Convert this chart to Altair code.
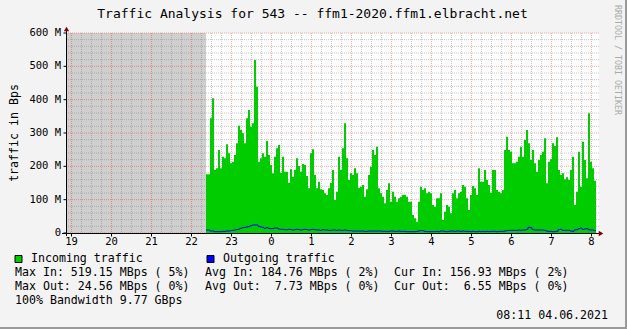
import altair as alt
import pandas as pd

FONT = "DejaVu Sans Mono"

TITLE = "Traffic Analysis for 543 -- ffm1-2020.ffm1.elbracht.net"
Y_TITLE = "traffic in Bps"
SIDE_TEXT = "RRDTOOL / TOBI OETIKER"
TIMESTAMP = "08:11 04.06.2021"

# x axis: hours of day (continuing past midnight as 24, 25, ...)
hour_ticks = list(range(19, 33))
hour_labels = [str(h % 24) for h in hour_ticks]
# y axis (MBps)
y_ticks = [0, 100, 200, 300, 400, 500, 600]
y_labels = ["0  ", "100 M", "200 M", "300 M", "400 M", "500 M", "600 M"]

view_start = 18 + 51.75 / 60     # left edge of the plot (hours)
view_end = 32 + 11.25 / 60       # 08:11 next day
series_start = 22 + 21.75 / 60   # first sample (before: unknown data)
step_h = 3 / 60                  # 3-minute samples

# Incoming traffic, MBps
incoming = [
    176, 176, 344, 404, 189, 194, 249, 194, 229, 224, 266, 239, 209, 214, 234, 269, 322,
    309, 299, 269, 344, 369, 319, 329, 519, 439, 214, 224, 239, 229, 276, 234, 204,
    179, 229, 254, 264, 181, 229, 184, 184, 151, 191, 169, 189, 224, 201, 184, 207, 204,
    171, 134, 239, 251, 174, 134, 154, 131, 129, 119, 114, 134, 151, 189, 99, 124,
    229, 189, 254, 329, 224, 159, 179, 174, 194, 179, 136, 139, 144, 109, 131, 174, 199,
    249, 234, 259, 134, 119, 109, 89, 129, 149, 94, 124, 109, 94, 104, 109, 114,
    114, 109, 94, 94, 54, 44, 34, 94, 139, 129, 134, 119, 124, 119, 84, 79, 104,
    104, 119, 39, 64, 84, 79, 59, 119, 129, 104, 119, 124, 144, 139, 104, 69,
    114, 141, 134, 114, 194, 154, 154, 189, 159, 144, 121, 189, 189, 129, 124, 119, 129,
    249, 289, 249, 244, 209, 209, 214, 229, 259, 229, 279, 309, 269, 219, 249, 209,
    184, 219, 234, 244, 284, 149, 214, 221, 269, 261, 287, 189, 174, 179, 161, 167, 159,
    189, 229, 84, 124, 244, 139, 274, 219, 164, 359, 214, 194, 157,
]
# Outgoing traffic, MBps
outgoing = [
    9, 9, 6, 6, 4, 4, 4, 4, 5, 5, 6, 6, 7, 8, 9, 10, 12, 14, 16, 17, 18, 19, 22, 24, 24, 24,
    20, 18, 17, 14, 16, 14, 13,
    13, 15, 15, 12, 11, 11, 10, 10, 11, 10, 9, 10, 11, 10, 9, 10, 11, 10, 9, 10, 11, 10, 9,
    9, 8, 10, 9, 9, 8, 8, 9, 9, 8,
    9, 8, 8, 9, 8, 7, 7, 6, 6, 6, 6, 6, 6, 5, 5, 6, 6, 6, 6, 6, 6, 6, 5, 5, 5, 5, 6, 6, 5,
    5, 6, 5, 5,
    5, 4, 4, 4, 4, 4, 5, 6, 7, 7, 5, 4, 4, 4, 4, 4, 5, 4, 6, 6, 5, 4, 5, 6, 6, 5, 6, 6, 5,
    6, 5, 5, 5,
    4, 5, 4, 4, 5, 4, 5, 4, 5, 4, 5, 5, 5, 4, 5, 5, 5, 6, 7, 8, 8, 8, 8, 8, 9, 8, 9, 9, 11,
    17, 16, 10, 9,
    9, 9, 9, 9, 8, 6, 5, 5, 4, 4, 5, 10, 11, 8, 8, 8, 8, 6, 5, 9, 10, 13, 15, 11, 12, 13,
    10, 9, 9, 7,
]

legend_items = ["Incoming traffic", "Outgoing traffic"]
legend_colors = ["#00cc00", "#0000ff"]
stats_rows = [
    ["Max In: 519.15 MBps ( 5%)", "Avg In: 184.76 MBps ( 2%)", "Cur In: 156.93 MBps ( 2%)"],
    ["Max Out: 24.56 MBps ( 0%)", "Avg Out:  7.73 MBps ( 0%)", "Cur Out:  6.55 MBps ( 0%)"],
    ["100% Bandwidth 9.77 GBps"],
]

NB = "\u00a0"
W, H = 533, 200
n = len(incoming)
times = [series_start + i * step_h for i in range(n + 1)]
df = pd.DataFrame({
    "t": times,
    "inc": incoming + [incoming[-1]],
    "out": outgoing + [outgoing[-1]],
})

xscale = alt.Scale(domain=[view_start, view_end], nice=False, zero=False)
yscale = alt.Scale(domain=[0, 600], nice=False, zero=True)

# unknown-data region
unknown = alt.Chart(pd.DataFrame({"a": [view_start], "b": [series_start], "lo": [0], "hi": [600]})).mark_rect(
    color="#cfcfcf").encode(
    x=alt.X("a:Q", scale=xscale, axis=None), x2="b:Q",
    y=alt.Y("lo:Q", scale=yscale, axis=None), y2="hi:Q")

minor_x = [h + q for h in range(18, 33) for q in (0.25, 0.5, 0.75) if view_start < h + q < view_end]
minor_y = [v for v in range(20, 600, 20) if v % 100 != 0]

grid_minor_x = alt.Chart(pd.DataFrame({"h": minor_x})).mark_rule(
    color="#808080", opacity=0.45, strokeDash=[1, 1], strokeWidth=1).encode(
    x=alt.X("h:Q", scale=xscale, axis=None))
grid_minor_y = alt.Chart(pd.DataFrame({"v": minor_y})).mark_rule(
    color="#808080", opacity=0.45, strokeDash=[1, 1], strokeWidth=1).encode(
    y=alt.Y("v:Q", scale=yscale, axis=None))
grid_major_x = alt.Chart(pd.DataFrame({"h": hour_ticks})).mark_rule(
    color="#ff0000", opacity=0.35, strokeDash=[1, 1], strokeWidth=1).encode(
    x=alt.X("h:Q", scale=xscale, axis=None))
grid_major_y = alt.Chart(pd.DataFrame({"v": y_ticks})).mark_rule(
    color="#ff0000", opacity=0.35, strokeDash=[1, 1], strokeWidth=1).encode(
    y=alt.Y("v:Q", scale=yscale, axis=None))

area_in = alt.Chart(df).mark_area(color="#00cc00", interpolate="step-after", opacity=1).encode(
    x=alt.X("t:Q", scale=xscale, axis=None),
    y=alt.Y("inc:Q", scale=yscale, axis=None))
line_out = alt.Chart(df).mark_line(color="#0000ff", interpolate="step-after", strokeWidth=1).encode(
    x=alt.X("t:Q", scale=xscale, axis=None),
    y=alt.Y("out:Q", scale=yscale, axis=None))

# axes drawn with the shared scales
xt = pd.DataFrame({"h": hour_ticks, "lab": hour_labels})
yt = pd.DataFrame({"v": y_ticks, "lab": [s.replace(" ", NB) for s in y_labels]})
x_ticks = alt.Chart(xt).mark_rule(color="#000000", strokeWidth=1).encode(
    x=alt.X("h:Q", scale=xscale, axis=None), y=alt.value(200), y2=alt.value(203.5))
x_labels = alt.Chart(xt).mark_text(font=FONT, fontSize=10.5, baseline="middle", align="center",
                                   color="#000000").encode(
    x=alt.X("h:Q", scale=xscale, axis=None), y=alt.value(209), text="lab:N")
y_tick_marks = alt.Chart(yt).mark_rule(color="#000000", strokeWidth=1).encode(
    y=alt.Y("v:Q", scale=yscale, axis=None), x=alt.value(-2.5), x2=alt.value(0.5))
y_tick_labels = alt.Chart(yt).mark_text(font=FONT, fontSize=10.5, baseline="middle", align="right",
                                        color="#000000").encode(
    y=alt.Y("v:Q", scale=yscale, axis=None), x=alt.value(-5), text="lab:N")

one = pd.DataFrame({"k": [0]})
axis_y_line = alt.Chart(one).mark_rule(color="#000000", strokeWidth=1).encode(
    x=alt.value(0.5), y=alt.value(-3), y2=alt.value(203))
axis_x_line = alt.Chart(one).mark_rule(color="#000000", strokeWidth=1).encode(
    x=alt.value(-4), x2=alt.value(534), y=alt.value(200.5))
arrow_up = alt.Chart(one).mark_point(shape="triangle-up", filled=True, color="#800000", size=28, opacity=1).encode(
    x=alt.value(0.5), y=alt.value(-4))
arrow_right = alt.Chart(one).mark_point(shape="triangle-right", filled=True, color="#800000", size=28, opacity=1).encode(
    x=alt.value(535), y=alt.value(200.5))


def txt(text, x, y, size=11.6, align="left", angle=0, color="#000000"):
    return alt.Chart(pd.DataFrame({"s": [text.replace(" ", NB)]})).mark_text(
        font=FONT, fontSize=size, align=align, baseline="middle", angle=angle, color=color).encode(
        text="s:N", x=alt.value(x), y=alt.value(y))


texts = [
    txt(TITLE, 246.5, -19, size=13, align="center"),
    txt(Y_TITLE, -51, 100, size=11.6, align="center", angle=270),
    txt(SIDE_TEXT, 551, -28, size=8.3, align="left", angle=90, color="#aaaaaa"),
    txt(TIMESTAMP, 542, 283, size=11.6, align="right"),
]
leg_x = [-47.5, 144.5]
for item, col, lx in zip(legend_items, legend_colors, leg_x):
    texts.append(alt.Chart(one).mark_square(size=49, color=col, stroke="#000000", strokeWidth=1, opacity=1).encode(
        x=alt.value(lx), y=alt.value(226)))
    texts.append(txt(item, lx + 12.5, 226))
col_x = [-51, 139, 328]
row_y = [240, 254, 268]
for row, ry in zip(stats_rows, row_y):
    for s, cx in zip(row, col_x):
        texts.append(txt(s, cx, ry))

frame_r = alt.Chart(one).mark_rule(color="#9a9a9a", strokeWidth=2).encode(
    x=alt.value(560), y=alt.value(-33), y2=alt.value(296))
frame_b = alt.Chart(one).mark_rule(color="#9a9a9a", strokeWidth=2).encode(
    x=alt.value(-66), x2=alt.value(561), y=alt.value(295))

chart = alt.layer(
    unknown, grid_minor_x, grid_minor_y, grid_major_x, grid_major_y,
    area_in, line_out, axis_y_line, axis_x_line, x_ticks, y_tick_marks,
    x_labels, y_tick_labels, arrow_up, arrow_right,
    *texts, frame_r, frame_b,
).properties(
    width=W, height=H,
    autosize=alt.AutoSizeParams(type="none"),
    padding={"left": 66, "top": 33, "right": 28, "bottom": 96},
    background="#f3f3f3",
).configure_view(fill="#ffffff", stroke=None)

chart.save("out.html", embed_options={"renderer": "svg", "actions": False})
